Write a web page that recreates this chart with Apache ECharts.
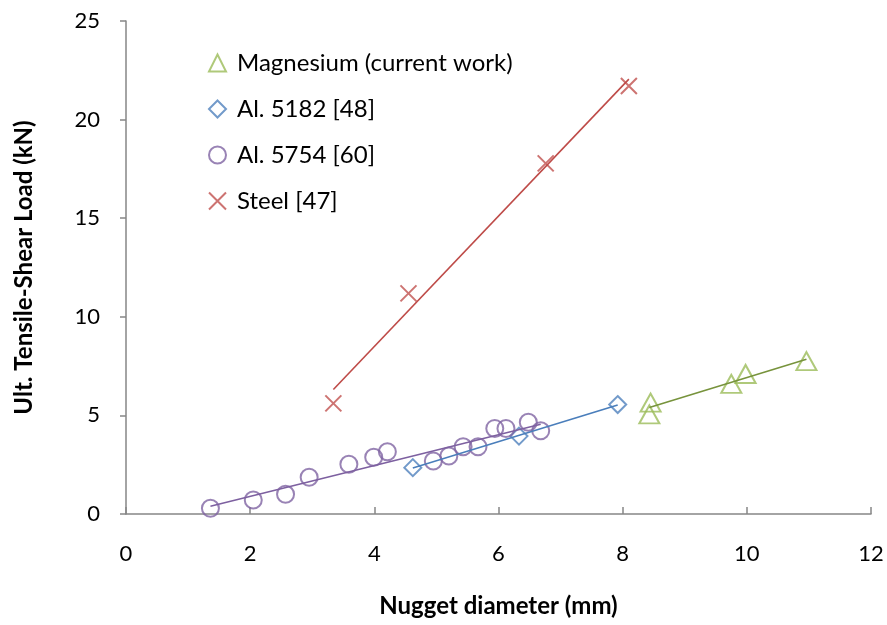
<!DOCTYPE html>
<html>
<head>
<meta charset="utf-8">
<script src="https://cdn.jsdelivr.net/npm/echarts@6/dist/echarts.min.js"></script>
<style>html,body{margin:0;padding:0;background:#fff;}#c{width:887px;height:625px;}</style>
</head>
<body>
<div id="c"></div>
<script>
// Data
const seriesNames = ['Magnesium (current work)', 'Al. 5182 [48]', 'Al. 5754 [60]', 'Steel [47]'];

const magX = [8.45, 8.43, 9.75, 9.98, 10.96];
const magY = [5.65, 5.05, 6.60, 7.10, 7.75];

const al5182X = [4.62, 6.33, 7.92];
const al5182Y = [2.35, 3.95, 5.55];

const al5754X = [1.36, 2.05, 2.57, 2.95, 3.59, 3.99, 4.21, 4.95, 5.20, 5.43, 5.67, 5.94, 6.12, 6.48, 6.68];
const al5754Y = [0.29, 0.71, 1.00, 1.86, 2.52, 2.88, 3.16, 2.69, 2.94, 3.41, 3.41, 4.34, 4.34, 4.65, 4.22];

const steelX = [3.34, 4.55, 6.76, 8.10];
const steelY = [5.61, 11.19, 17.78, 21.70];

// Linear trend lines: endpoints
const magTrendX = [8.43, 10.96];
const magTrendY = [5.40, 7.85];
const al5182TrendX = [4.62, 7.92];
const al5182TrendY = [2.33, 5.53];
const al5754TrendX = [1.36, 6.68];
const al5754TrendY = [0.39, 4.55];
const steelTrendX = [3.34, 8.10];
const steelTrendY = [6.31, 22.05];

const xTicks = [0, 2, 4, 6, 8, 10, 12];
const yTicks = [0, 5, 10, 15, 20, 25];

const zip = (a, b) => a.map((v, i) => [v, b[i]]);
const FONT = 'Lato, "Open Sans", sans-serif';
const xPath = 'path://M0,0L10,10M10,0L0,10';

const chart = echarts.init(document.getElementById('c'), null, {renderer: 'canvas'});

function scatter(name, x, y, symbol, size, color) {
  return {
    name: name, type: 'scatter', data: zip(x, y), symbol: symbol, symbolSize: size,
    itemStyle: {color: 'rgba(255,255,255,0)', borderColor: color, borderWidth: 2},
    z: 3
  };
}
function trend(x, y, color) {
  return {
    type: 'line', data: zip(x, y), symbol: 'none', silent: true,
    lineStyle: {color: color, width: 1.6}, z: 4
  };
}

chart.setOption({
  animation: false,
  backgroundColor: '#ffffff',
  grid: {left: 126, right: 16, top: 21, bottom: 111, containLabel: false},
  legend: {
    data: seriesNames, orient: 'vertical', left: 203, top: 46,
    itemWidth: 17, itemHeight: 17, itemGap: 22,
    textStyle: {fontFamily: FONT, fontSize: 24, color: '#000', padding: [0, 0, 0, 6]}
  },
  xAxis: {
    type: 'value', min: xTicks[0], max: xTicks[xTicks.length - 1], interval: 2,
    name: 'Nugget diameter (mm)', nameLocation: 'middle', nameGap: 80,
    nameTextStyle: {fontFamily: FONT, fontSize: 24, fontWeight: 'bold', color: '#000'},
    axisLine: {show: true, lineStyle: {color: '#868686', width: 1.5}},
    axisTick: {show: true, inside: true, length: 7, lineStyle: {color: '#868686', width: 1.5}},
    axisLabel: {fontFamily: FONT, fontSize: 22, color: '#000', margin: 29},
    splitLine: {show: false}
  },
  yAxis: {
    type: 'value', min: yTicks[0], max: yTicks[yTicks.length - 1], interval: 5,
    name: 'Ult. Tensile-Shear Load (kN)', nameLocation: 'middle', nameGap: 90,
    nameTextStyle: {fontFamily: FONT, fontSize: 24, fontWeight: 'bold', color: '#000'},
    axisLine: {show: true, lineStyle: {color: '#868686', width: 1.5}},
    axisTick: {show: true, inside: false, length: 6, lineStyle: {color: '#868686', width: 1.5}},
    axisLabel: {fontFamily: FONT, fontSize: 22, color: '#000', margin: 26},
    splitLine: {show: false}
  },
  series: [
    scatter(seriesNames[0], magX, magY, 'triangle', [20, 18], '#9BBB59'),
    scatter(seriesNames[1], al5182X, al5182Y, 'diamond', [17, 17], '#4F81BD'),
    scatter(seriesNames[2], al5754X, al5754Y, 'circle', 17, '#8064A2'),
    scatter(seriesNames[3], steelX, steelY, xPath, 16, '#C0504D'),
    trend(magTrendX, magTrendY, '#77933C'),
    trend(al5182TrendX, al5182TrendY, '#4A7EBB'),
    trend(al5754TrendX, al5754TrendY, '#7D60A0'),
    trend(steelTrendX, steelTrendY, '#BE4B48')
  ]
});
</script>
</body>
</html>
